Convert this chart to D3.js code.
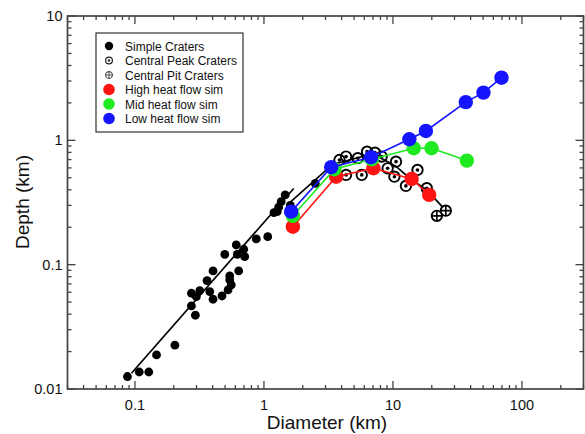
<!DOCTYPE html>
<html>
<head>
<meta charset="utf-8">
<script src="https://cdn.jsdelivr.net/npm/d3@7"></script>
<style>
  body { margin: 0; background: #fff; }
  text { font-family: "Liberation Sans", Arial, Helvetica, sans-serif; fill: #111; }
</style>
</head>
<body>
<div id="chart"></div>
<script>
// crater observations (diameter km, depth km)
const simpleD = [0.0875, 0.108, 0.128, 0.147, 0.204, 0.294, 0.274, 0.274, 0.299, 0.318, 0.403, 0.38, 0.362, 0.403, 0.473, 0.527, 0.558, 0.543, 0.543, 0.637, 0.497, 0.621, 0.61, 0.709, 0.697, 0.872, 1.07, 1.195, 1.267, 1.46, 1.36, 1.3, 1.6, 2.5];
const simpleH = [0.0126, 0.0137, 0.0137, 0.0188, 0.0225, 0.0392, 0.0466, 0.0589, 0.0553, 0.0618, 0.0527, 0.0607, 0.0743, 0.089, 0.056, 0.0626, 0.0687, 0.0754, 0.0811, 0.089, 0.121, 0.121, 0.144, 0.116, 0.133, 0.161, 0.168, 0.262, 0.267, 0.364, 0.321, 0.29, 0.3, 0.45];
const peakD = [3.85, 4.33, 5.34, 6.3, 7.26, 8.18, 4.33, 5.73, 9.1, 10.56, 10.26, 12.6, 15.5, 18.3];
const peakH = [0.695, 0.74, 0.718, 0.811, 0.796, 0.74, 0.527, 0.527, 0.596, 0.674, 0.51, 0.43, 0.578, 0.412];
const pitD = [21.9, 25.7];
const pitH = [0.247, 0.272];

// fitted trend lines
const fitD = [0.094, 1.7];
const fitH = [0.0134, 0.41];
const trendD = [1.5, 3.4, 7.0, 10.5, 14, 18.3, 25.7];
const trendH = [0.3, 0.64, 0.78, 0.62, 0.48, 0.4, 0.272];

// simulations
const highD = [1.676, 3.63, 7.06, 13.96, 19.1];
const highH = [0.202, 0.51, 0.596, 0.489, 0.364];
const midD = [1.676, 3.52, 6.85, 14.5, 19.9, 37.4];
const midH = [0.247, 0.585, 0.705, 0.864, 0.864, 0.687];
const lowD = [1.626, 3.32, 6.76, 13.4, 18.0, 36.7, 50.3, 69.4];
const lowH = [0.267, 0.608, 0.731, 1.02, 1.19, 2.03, 2.42, 3.19];

const xTicks = [0.1, 1, 10, 100];
const yTicks = [0.01, 0.1, 1, 10];
const legendNames = ["Simple Craters", "Central Peak Craters", "Central Pit Craters", "High heat flow sim", "Mid heat flow sim", "Low heat flow sim"];
const simColors = { high: "#ff1414", mid: "#1fea1f", low: "#1414ff" };

const W = 585, H = 434;

const svg = d3.select("#chart").append("svg")
  .attr("width", W).attr("height", H);

const x = d3.scaleLog().domain([0.03, 300]).range([67.5, 583.5]);
const y = d3.scaleLog().domain([0.01, 10]).range([389, 16]);

const zip = (a, b) => a.map((v, i) => [v, b[i]]);

// minor ticks 2..9 per decade
function minorTicks(dom) {
  const out = [];
  for (let e = -3; e <= 3; e++) {
    for (let m = 1; m <= 9; m++) {
      const v = m * Math.pow(10, e);
      if (v >= dom[0] * 0.999 && v <= dom[1] * 1.001) out.push(v);
    }
  }
  return out;
}
const isMajor = v => Math.abs(Math.log10(v) - Math.round(Math.log10(v))) < 1e-6;

const axisCol = "#444";
const x0 = x.range()[0], x1 = x.range()[1], y0 = y.range()[0], y1 = y.range()[1];

// frame
svg.append("rect")
  .attr("x", x0).attr("y", y1).attr("width", x1 - x0).attr("height", y0 - y1)
  .attr("fill", "none").attr("stroke", axisCol).attr("stroke-width", 1.7);

const tickG = svg.append("g").attr("stroke", axisCol).attr("stroke-width", 1.3);
minorTicks(x.domain()).forEach(v => {
  const len = isMajor(v) ? 8 : 4;
  tickG.append("line").attr("x1", x(v)).attr("x2", x(v)).attr("y1", y0).attr("y2", y0 - len);
  tickG.append("line").attr("x1", x(v)).attr("x2", x(v)).attr("y1", y1).attr("y2", y1 + len);
});
minorTicks(y.domain()).forEach(v => {
  const len = isMajor(v) ? 8 : 4;
  tickG.append("line").attr("x1", x0).attr("x2", x0 + len).attr("y1", y(v)).attr("y2", y(v));
  tickG.append("line").attr("x1", x1).attr("x2", x1 - len).attr("y1", y(v)).attr("y2", y(v));
});

svg.append("g").selectAll("text").data(xTicks).join("text")
  .attr("x", d => x(d)).attr("y", y0 + 21)
  .attr("text-anchor", "middle").attr("font-size", 14.5)
  .text(d => d3.format("~g")(d));

svg.append("g").selectAll("text").data(yTicks).join("text")
  .attr("x", x0 - 5).attr("y", d => y(d) + 5)
  .attr("text-anchor", "end").attr("font-size", 14.5)
  .text(d => d3.format("~g")(d));

svg.append("text")
  .attr("x", 327).attr("y", 429)
  .attr("text-anchor", "middle").attr("font-size", 19)
  .text("Diameter (km)");

svg.append("text")
  .attr("transform", "translate(29,202) rotate(-90)")
  .attr("text-anchor", "middle").attr("font-size", 19)
  .text("Depth (km)");

const line = d3.line().x(d => x(d[0])).y(d => y(d[1]));
const plot = svg.append("g");

// black lines
plot.append("path").datum(zip(fitD, fitH)).attr("d", line)
  .attr("fill", "none").attr("stroke", "#000").attr("stroke-width", 1.7);
plot.append("path").datum(zip(trendD, trendH)).attr("d", line)
  .attr("fill", "none").attr("stroke", "#000").attr("stroke-width", 1.7);

// simple craters
plot.append("g").selectAll("circle").data(zip(simpleD, simpleH)).join("circle")
  .attr("cx", d => x(d[0])).attr("cy", d => y(d[1])).attr("r", 4.4).attr("fill", "#000");

// central peak craters
const pk = plot.append("g").selectAll("g").data(zip(peakD, peakH)).join("g")
  .attr("transform", d => "translate(" + x(d[0]) + "," + y(d[1]) + ")");
pk.append("circle").attr("r", 5.2).attr("fill", "none").attr("stroke", "#000").attr("stroke-width", 1.9);
pk.append("circle").attr("r", 1.8).attr("fill", "#000");

// central pit craters
const pt = plot.append("g").selectAll("g").data(zip(pitD, pitH)).join("g")
  .attr("transform", d => "translate(" + x(d[0]) + "," + y(d[1]) + ")");
pt.append("circle").attr("r", 5.2).attr("fill", "#fff").attr("stroke", "#000").attr("stroke-width", 1.9);
pt.append("path").attr("d", "M-5.2,0H5.2M0,-5.2V5.2").attr("stroke", "#000").attr("stroke-width", 1.6);

// simulations
[[highD, highH, simColors.high], [midD, midH, simColors.mid], [lowD, lowH, simColors.low]].forEach(s => {
  const pts = zip(s[0], s[1]);
  plot.append("path").datum(pts).attr("d", line)
    .attr("fill", "none").attr("stroke", s[2]).attr("stroke-width", 1.6);
  plot.append("g").selectAll("circle").data(pts).join("circle")
    .attr("cx", d => x(d[0])).attr("cy", d => y(d[1])).attr("r", 7.2).attr("fill", s[2]);
});

// legend
const lg = svg.append("g");
lg.append("rect").attr("x", 96).attr("y", 33).attr("width", 147).attr("height", 99)
  .attr("fill", "#fff").attr("stroke", "#333").attr("stroke-width", 1.2);
legendNames.forEach((name, i) => {
  const ly = 46 + i * 14.5;
  const g = lg.append("g").attr("transform", "translate(109," + ly + ")");
  if (i === 0) g.append("circle").attr("r", 4.2).attr("fill", "#000");
  else if (i === 1) {
    g.append("circle").attr("r", 3.4).attr("fill", "none").attr("stroke", "#222").attr("stroke-width", 1.2);
    g.append("circle").attr("r", 1.2).attr("fill", "#222");
  } else if (i === 2) {
    g.append("circle").attr("r", 3.4).attr("fill", "none").attr("stroke", "#444").attr("stroke-width", 1.1);
    g.append("path").attr("d", "M-3.4,0H3.4M0,-3.4V3.4").attr("stroke", "#444").attr("stroke-width", 0.9);
  } else {
    g.append("circle").attr("r", 5.8).attr("fill", [simColors.high, simColors.mid, simColors.low][i - 3]);
  }
  lg.append("text").attr("x", 125).attr("y", ly + 4.5).attr("font-size", 12).text(name);
});
</script>
</body>
</html>
